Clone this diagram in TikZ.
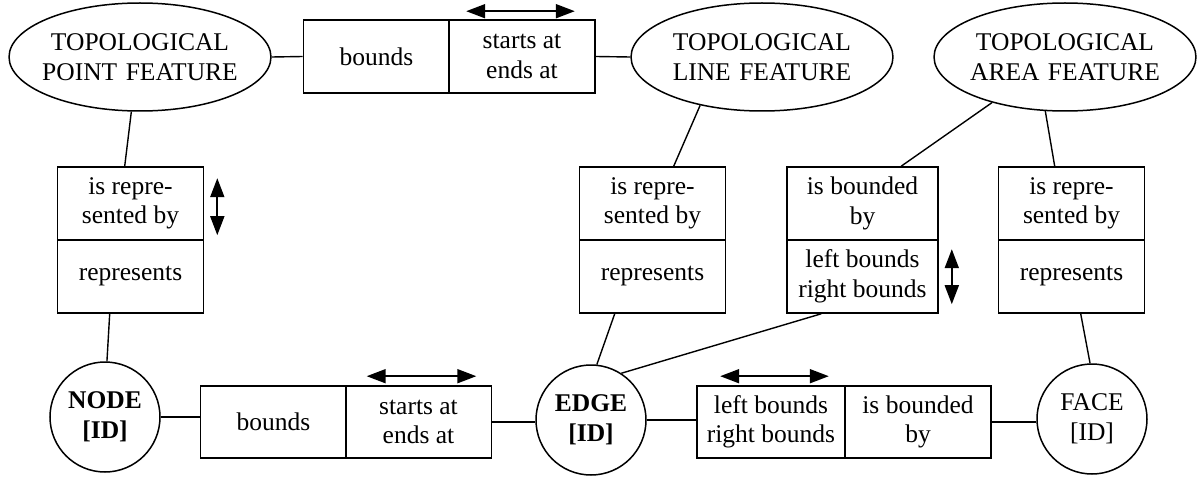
\documentclass[tikz,border=0pt]{standalone}
\usepackage{fontspec}
\setmainfont{Liberation Serif}
\usetikzlibrary{arrows.meta,shapes.geometric}
\begin{document}
\begin{tikzpicture}[x=1pt,y=-1pt,
  txt/.style={font=\fontsize{25.5}{29.5}\selectfont},
  cell/.style={txt,draw,line width=1.6pt,minimum width=146pt,minimum height=73pt,inner sep=0pt,align=center},
  feat/.style={txt,ellipse,draw,line width=1.5pt,text width=200pt,inner xsep=-7.4pt,minimum height=108pt,inner ysep=0pt,align=center},
  prim/.style={txt,circle,draw,line width=1.5pt,minimum size=110pt,inner sep=0pt,align=center},
  link/.style={line width=1.4pt},
  dir/.style={line width=1.8pt,{Triangle[length=19pt,width=14pt]}-{Triangle[length=19pt,width=14pt]}}]
\useasboundingbox (0,0) rectangle (1200,484);

% feature ellipses
\node[feat] (POINT) at (140,57) {TOPOLOGICAL\\POINT FEATURE};
\node[feat] (LINE)  at (762,57) {TOPOLOGICAL\\LINE FEATURE};
\node[feat] (AREA)  at (1065,57) {TOPOLOGICAL\\AREA FEATURE};

% primitives
\node[prim] (NODE) at (105,417) {\textbf{NODE}\\\textbf{[ID]}};
\node[prim] (EDGE) at (591,420) {\textbf{EDGE}\\\textbf{[ID]}};
\node[prim] (FACE) at (1092,419) {FACE\\{[ID]}};

% top relation box
\node[cell] (tbA) at (376.5,56.5) {bounds};
\node[cell] (tbB) at (522,56.5) {starts at\\ends at};

% vertical relation boxes
\node[cell] (v1a) at (130.5,203.5) {is repre-\\sented by};
\node[cell] (v1b) at (130.5,276.5) {represents};
\node[cell] (v2a) at (652.5,203.5) {is repre-\\sented by};
\node[cell] (v2b) at (652.5,276.5) {represents};
\node[cell,minimum width=151pt] (v3a) at (862.5,203.5) {is bounded\\by};
\node[cell,minimum width=151pt] (v3b) at (862.5,276.5) {left bounds\\right bounds};
\node[cell] (v4a) at (1071.5,203.5) {is repre-\\sented by};
\node[cell] (v4b) at (1071.5,276.5) {represents};

% bottom relation boxes
\node[cell,minimum height=72pt] (bb1a) at (273.5,422) {bounds};
\node[cell,minimum height=72pt] (bb1b) at (418.5,422) {starts at\\ends at};
\node[cell,minimum height=72pt,minimum width=148pt] (bb2a) at (771,422) {left bounds\\right bounds};
\node[cell,minimum height=72pt] (bb2b) at (918,422) {is bounded\\by};

% connectors
\draw[link] (POINT.east) -- (tbA.west);
\draw[link] (tbB.east) -- (LINE.west);
\draw[link] (POINT.-99.5) -- ([xshift=68pt]v1a.north west);
\draw[link] ([xshift=53pt]v1b.south west) -- (NODE.88);
\draw[link] (LINE.218) -- ([xshift=95pt]v2a.north west);
\draw[link] ([xshift=36pt]v2b.south west) -- (EDGE.84);
\draw[link] (AREA.212.7) -- ([xshift=115pt]v3a.north west);
\draw[link] (AREA.250.3) -- ([xshift=57pt]v4a.north west);
\draw[link] ([xshift=35pt]v3b.south west) -- (EDGE.57);
\draw[link] ([xshift=83pt]v4b.south west) -- (FACE.92);
\draw[link] (NODE.east) -- (NODE.east -| bb1a.west);
\draw[link] (bb1b.east) -- (bb1b.east -| EDGE.west);
\draw[link] (EDGE.east) -- (EDGE.east -| bb2a.west);
\draw[link] (bb2b.east) -- (bb2b.east -| FACE.west);

% reading-direction arrows
\coordinate (d1s) at ([xshift=18pt,yshift=8pt]tbB.north west);
\coordinate (d1e) at ([xshift=-21pt,yshift=8pt]tbB.north east);
\draw[dir] (d1s) -- (d1e);
\coordinate (d2s) at ([xshift=22pt,yshift=9pt]bb1b.north west);
\coordinate (d2e) at ([xshift=-16pt,yshift=9pt]bb1b.north east);
\draw[dir] (d2s) -- (d2e);
\coordinate (d3s) at ([xshift=24pt,yshift=9pt]bb2a.north west);
\coordinate (d3e) at ([xshift=-17pt,yshift=9pt]bb2a.north east);
\draw[dir] (d3s) -- (d3e);
\coordinate (d4s) at ([xshift=13pt,yshift=-12pt]v1a.north east);
\coordinate (d4e) at ([xshift=13pt,yshift=-69pt]v1a.north east);
\draw[dir] (d4s) -- (d4e);
\coordinate (d5s) at ([xshift=13pt,yshift=-10pt]v3b.north east);
\coordinate (d5e) at ([xshift=13pt,yshift=-65pt]v3b.north east);
\draw[dir] (d5s) -- (d5e);
\end{tikzpicture}
\end{document}
